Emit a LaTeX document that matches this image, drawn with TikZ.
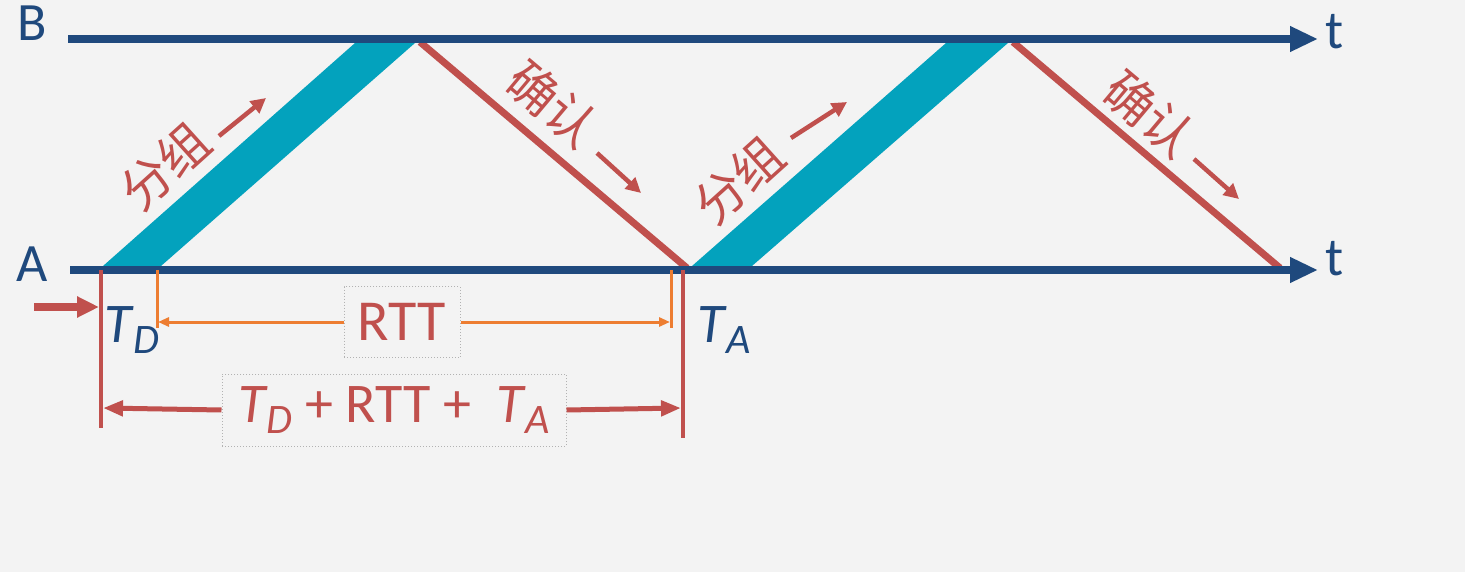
\documentclass[tikz,border=0pt]{standalone}
\usepackage{fontspec}
\setmainfont{Carlito}
\newfontfamily\cjk{Noto Sans CJK SC}
\usetikzlibrary{arrows.meta}
\definecolor{navy}{HTML}{1F497D}
\definecolor{pkt}{HTML}{03A2BD}
\definecolor{ackred}{HTML}{C0504D}
\definecolor{orng}{HTML}{ED7D31}
\definecolor{bgc}{HTML}{F3F3F3}
\newcommand\TSub[1]{\textit{T}\kern-0.02em\raisebox{-11pt}{\fontsize{42}{42}\selectfont\textit{#1}}}
\tikzset{
  axis/.style={navy, line width=8pt, -{Triangle[length=28pt,width=24pt]}},
  packet/.style={fill=pkt},
  ackline/.style={ackred, line width=7pt},
  lbl/.style={navy, font=\fontsize{54}{54}\selectfont, inner sep=0pt},
  cjklbl/.style={ackred, font=\cjk\fontsize{50}{50}\selectfont, inner sep=0pt},
  smallarr/.style={ackred, line width=4.5pt, -{Triangle[length=15pt,width=15pt]}},
  orline/.style={orng, line width=3pt},
  orarr/.style={orng, line width=3pt, -{Triangle[length=11pt,width=9pt]}},
  rdline/.style={ackred, line width=4pt},
  rdarr/.style={ackred, line width=5pt, -{Triangle[length=20pt,width=15pt]}},
  dotbox/.style={draw=gray!60, dotted, line width=1pt, fill=bgc, inner sep=0pt},
}
\begin{document}
\begin{tikzpicture}[x=1pt,y=-1pt]
\fill[bgc] (0,0) rectangle (1465,572);
\useasboundingbox (0,0) rectangle (1465,572);
% axes coordinates
\coordinate (Bs) at (68,39);
\coordinate (Be) at (1318,39);
\coordinate (As) at (70,270);
\coordinate (Ae) at (1318,270);
% packets
\coordinate (p1a) at (103,266);
\coordinate (p1b) at (161,266);
\coordinate (p1c) at (415,43);
\coordinate (p1d) at (355,43);
\coordinate (p2a) at (692,266);
\coordinate (p2b) at (752,266);
\coordinate (p2c) at (1008,43);
\coordinate (p2d) at (946,43);
\fill[packet] (p1a) -- (p1b) -- (p1c) -- (p1d) -- cycle;
\fill[packet] (p2a) -- (p2b) -- (p2c) -- (p2d) -- cycle;
% acks
\coordinate (a1s) at (420,42);
\coordinate (a1e) at (687,268);
\coordinate (a2s) at (1013,42);
\coordinate (a2e) at (1280,268);
\draw[ackline] (a1s) -- (a1e);
\draw[ackline] (a2s) -- (a2e);
% axes
\draw[axis] (Bs) -- (Be);
\draw[axis] (As) -- (Ae);
\node[lbl] (B) at (32,23) {B};
\node[lbl] (A) at (32,264) {A};
\node[lbl] (tB) at (1335,32) {t};
\node[lbl] (tA) at (1335,259) {t};
% labels along packets and acks
\node[cjklbl, rotate=42] (g1) at (165,166) {分组};
\coordinate (g1a) at (219,136);
\coordinate (g1b) at (266,98);
\draw[smallarr] (g1a) -- (g1b);
\node[cjklbl, rotate=-40] (c1) at (553,104) {确认};
\coordinate (c1a) at (597,153);
\coordinate (c1b) at (641,193);
\draw[smallarr] (c1a) -- (c1b);
\node[cjklbl, rotate=42] (g2) at (739,180) {分组};
\coordinate (g2a) at (791,138);
\coordinate (g2b) at (847,102);
\draw[smallarr] (g2a) -- (g2b);
\node[cjklbl, rotate=-40] (c2) at (1150,114) {确认};
\coordinate (c2a) at (1194,159);
\coordinate (c2b) at (1239,199);
\draw[smallarr] (c2a) -- (c2b);
% bottom markers
\coordinate (r1t) at (101,270);
\coordinate (r1b) at (101,428);
\coordinate (r2t) at (683,270);
\coordinate (r2b) at (683,438);
\draw[rdline] (r1t) -- (r1b);
\draw[rdline] (r2t) -- (r2b);
\coordinate (in0) at (34,307);
\coordinate (in1) at (99,307);
\draw[ackred, line width=8pt, -{Triangle[length=22pt,width=20pt]}] (in0) -- (in1);
\coordinate (o1t) at (157,270);
\coordinate (o1b) at (157,328);
\coordinate (o2t) at (671,270);
\coordinate (o2b) at (671,328);
\draw[orline] (o1t) -- (o1b);
\draw[orline] (o2t) -- (o2b);
\coordinate (o1m) at (158,322);
\coordinate (o2m) at (670,322);
\node[dotbox, minimum width=116pt, minimum height=71pt] (rtt) at (402,322) {};
\node[ackred, font=\fontsize{58}{58}\selectfont, inner sep=0pt] (rttt) at (402,322) {RTT};
\draw[orarr] (rtt.west) -- (o1m);
\draw[orarr] (rtt.east) -- (o2m);
\coordinate (m1) at (103,408);
\coordinate (m2) at (681,408);
\node[dotbox, minimum width=344pt, minimum height=72pt] (sum) at (394,410) {};
\node[ackred, font=\fontsize{56}{56}\selectfont, inner sep=0pt] (sumt) at (394,410) {\TSub{D} + RTT +\ \ \TSub{A}};
\draw[rdarr] (sum.west) -- (m1);
\draw[rdarr] (sum.east) -- (m2);
\node[navy, font=\fontsize{56}{56}\selectfont, inner sep=0pt] (TD) at (132,330) {\TSub{D}};
\node[navy, font=\fontsize{56}{56}\selectfont, inner sep=0pt] (TA) at (724,330) {\TSub{A}};
\end{tikzpicture}
\end{document}
